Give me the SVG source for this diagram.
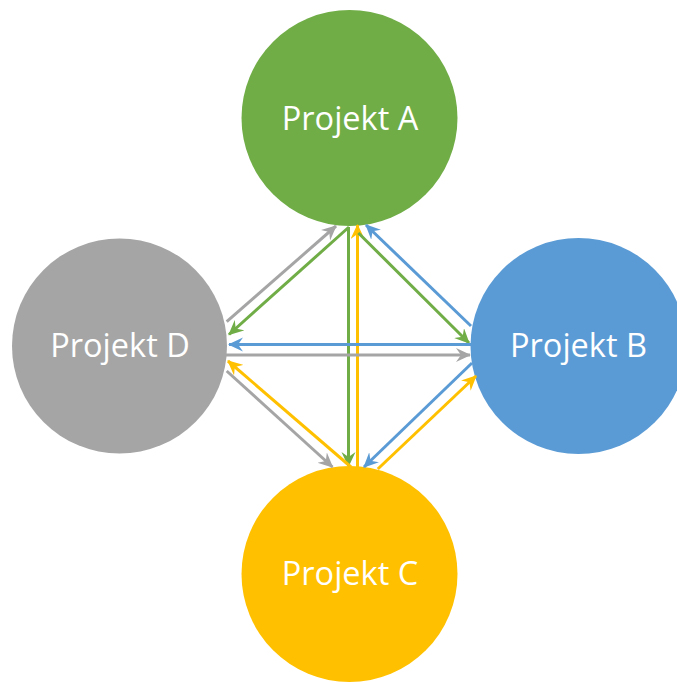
<svg xmlns="http://www.w3.org/2000/svg" width="677" height="682" viewBox="0 0 677 682">
<style>
.lbl{font-family:"Open Sans","Noto Sans",sans-serif;font-size:32.5px;fill:#fff;text-anchor:middle}
.c{fill:none;stroke-width:3}
.g{stroke:#70AD47}.b{stroke:#5B9BD5}.y{stroke:#FFC000}.k{stroke:#A5A5A5}
</style>
<defs>
<marker id="mg" markerUnits="userSpaceOnUse" markerWidth="17" markerHeight="15" refX="14" refY="7" orient="auto"><path d="M0,0 L15,7 L0,14 L5,7 z" fill="#70AD47"/></marker>
<marker id="mb" markerUnits="userSpaceOnUse" markerWidth="17" markerHeight="15" refX="14" refY="7" orient="auto"><path d="M0,0 L15,7 L0,14 L5,7 z" fill="#5B9BD5"/></marker>
<marker id="my" markerUnits="userSpaceOnUse" markerWidth="17" markerHeight="15" refX="14" refY="7" orient="auto"><path d="M0,0 L15,7 L0,14 L5,7 z" fill="#FFC000"/></marker>
<marker id="mk" markerUnits="userSpaceOnUse" markerWidth="17" markerHeight="15" refX="14" refY="7" orient="auto"><path d="M0,0 L15,7 L0,14 L5,7 z" fill="#A5A5A5"/></marker>
</defs>
<rect width="677" height="682" fill="#fff"/>
<g id="projekt-a"><circle cx="349.5" cy="118" r="108" fill="#70AD47"/><text class="lbl" x="350" y="130">Projekt A</text></g>
<g id="projekt-d"><circle cx="119.5" cy="346" r="107.5" fill="#A5A5A5"/><text class="lbl" x="120" y="357">Projekt D</text></g>
<g id="projekt-b"><circle cx="578.5" cy="346" r="108" fill="#5B9BD5"/><text class="lbl" x="578.5" y="357">Projekt B</text></g>
<g id="projekt-c"><circle cx="349.5" cy="574" r="108" fill="#FFC000"/><text class="lbl" x="350" y="585">Projekt C</text></g>
<g id="connectors">
<line class="c k" x1="226.7" y1="321.7" x2="336" y2="226" marker-end="url(#mk)"/>
<line class="c g" x1="349" y1="227" x2="229" y2="334.5" marker-end="url(#mg)"/>
<line class="c g" x1="348.5" y1="227" x2="348.5" y2="466" marker-end="url(#mg)"/>
<line class="c y" x1="357.5" y1="467" x2="357.5" y2="225" marker-end="url(#my)"/>
<line class="c b" x1="471" y1="326" x2="366" y2="225" marker-end="url(#mb)"/>
<line class="c g" x1="358.4" y1="233" x2="469" y2="343" marker-end="url(#mg)"/>
<line class="c b" x1="471" y1="344.5" x2="229" y2="344.5" marker-end="url(#mb)"/>
<line class="c k" x1="226" y1="355" x2="470" y2="355" marker-end="url(#mk)"/>
<line class="c y" x1="351" y1="467" x2="228" y2="361" marker-end="url(#my)"/>
<line class="c k" x1="226.7" y1="371" x2="332.5" y2="467" marker-end="url(#mk)"/>
<line class="c b" x1="472" y1="363" x2="364" y2="467" marker-end="url(#mb)"/>
<line class="c y" x1="377.8" y1="469" x2="476" y2="376" marker-end="url(#my)"/>
</g>
</svg>
